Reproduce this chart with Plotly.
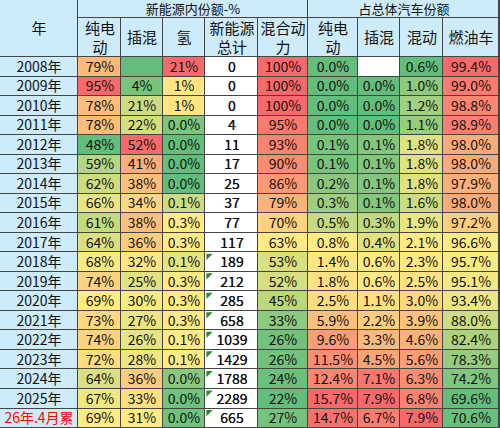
import numpy as np
import plotly.graph_objects as go

years = ["2008年", "2009年", "2010年", "2011年", "2012年", "2013年", "2014年",
         "2015年", "2016年", "2017年", "2018年", "2019年", "2020年", "2021年",
         "2022年", "2023年", "2024年", "2025年", "26年.4月累"]

# 新能源内份额 (%)
nev_bev = [79, 95, 78, 78, 48, 59, 62, 66, 61, 64, 68, 74, 69, 73, 74, 72, 64, 67, 69]
nev_phev = [0, 4, 21, 22, 52, 41, 38, 34, 38, 36, 32, 25, 30, 27, 26, 28, 36, 33, 31]
nev_h2 = [21, 1, 1, 0.02, 0.0, 0.0, 0.0, 0.08, 0.3, 0.3, 0.1, 0.3, 0.3, 0.27,
          0.14, 0.12, 0.03, 0.01, 0.01]
nev_total = [0, 0, 0, 4, 11, 17, 25, 37, 77, 117, 189, 212, 285, 658, 1039,
             1429, 1788, 2289, 665]
hybrid = [100, 100, 100, 95, 93, 90, 86, 79, 70, 63, 53, 52, 45, 33, 26, 26, 24, 22, 27]
# excel "number stored as text" flags in the total column
total_flag = [False] * 10 + [True] * 9

# 占总体汽车份额 (%)
all_bev = [0.0, 0.0, 0.0, 0.0, 0.1, 0.1, 0.2, 0.3, 0.5, 0.8, 1.4, 1.8, 2.5, 5.9,
           9.6, 11.5, 12.4, 15.7, 14.7]
all_phev = [None, 0.0, 0.0, 0.0, 0.1, 0.1, 0.1, 0.1, 0.3, 0.4, 0.6, 0.6, 1.1, 2.2,
            3.3, 4.5, 7.1, 7.9, 6.7]
all_hev = [0.6, 1.0, 1.2, 1.1, 1.8, 1.8, 1.8, 1.6, 1.9, 2.1, 2.3, 2.5, 3.0, 3.9,
           4.6, 5.6, 6.3, 6.8, 7.9]
all_ice = [99.4, 99.0, 98.8, 98.9, 98.0, 98.0, 97.9, 98.0, 97.2, 96.6, 95.7, 95.1,
           93.4, 88.0, 82.4, 78.3, 74.2, 69.6, 70.6]

group_titles = ["新能源内份额-%", "占总体汽车份额"]
sub_titles = ["纯电<br>动", "插混", "氢", "新能源<br>总计", "混合动<br>力",
              "纯电<br>动", "插混", "混动", "燃油车"]

# layout of the grid (pixels)
col_edges = [0, 78, 121, 163, 205, 258, 308, 358, 400, 443, 499]
row_h = 19.53
head_h = [0, 18, 57]
row_edges = [57 + i * row_h for i in range(len(years) + 1)]

FONT = "Noto Sans CJK SC"
HEAD_BG = "#CDEBF8"
GRID = "#454545"
scale = [[0, "#63BE7B"], [0.5, "#FFEB84"], [1, "#F8696B"]]


def pos(vals):
    # excel style 3 colour scale: min / 50th percentile / max
    v = np.array([np.nan if x is None else x for x in vals], dtype=float)
    ok = v[~np.isnan(v)]
    lo, mid, hi = ok.min(), np.percentile(ok, 50), ok.max()
    out = np.where(v <= mid, 0.5 * (v - lo) / (mid - lo),
                   0.5 + 0.5 * (v - mid) / (hi - mid))
    return out


def pct0(vals):
    return [f"{x:.0f}%" for x in vals]


def pct1(vals):
    return ["" if x is None else f"{x:.1f}%" for x in vals]


data_cols = [nev_bev, nev_phev, nev_h2, None, hybrid, all_bev, all_phev, all_hev, all_ice]
text_cols = [
    pct0(nev_bev),
    ["" if x == 0 else f"{x:.0f}%" for x in nev_phev],
    [f"{x:.0f}%" if x >= 1 else f"{x:.1f}%" for x in nev_h2],
    [str(x) for x in nev_total],
    pct0(hybrid),
    pct1(all_bev), pct1(all_phev), pct1(all_hev), pct1(all_ice),
]

n = len(years)
z = np.full((n, 9), np.nan)
for j, col in enumerate(data_cols):
    if col is not None:
        z[:, j] = pos(col)
text = [[text_cols[j][i] for j in range(9)] for i in range(n)]
white_text = [["" if j != 3 else text_cols[3][i] for j in range(9)] for i in range(n)]

cell_font = dict(family=FONT, size=14, color="#111111")
head_font = dict(family=FONT, size=15, color="#111111")
group_font = dict(family=FONT, size=13, color="#111111")
flat_blue = [[0, HEAD_BG], [1, HEAD_BG]]
flat_white = [[0, "#FFFFFF"], [1, "#FFFFFF"]]

common = dict(showscale=False, hoverinfo="skip", xgap=1, ygap=1, texttemplate="%{text}")

fig = go.Figure()
fig.add_trace(go.Heatmap(x=col_edges[:2], y=[0, 57], z=[[0]], text=[["年"]],
                         colorscale=flat_blue, textfont=head_font, **common))
fig.add_trace(go.Heatmap(x=[78, 308, 499], y=head_h[:2], z=[[0, 0]], text=[group_titles],
                         colorscale=flat_blue, textfont=group_font, **common))
fig.add_trace(go.Heatmap(x=col_edges[1:], y=head_h[1:], z=[[0] * 9], text=[sub_titles],
                         colorscale=flat_blue, textfont=head_font, **common))
year_text = [[y if not y.startswith("26") else f"<span style='color:#FF0000'>{y}</span>"]
             for y in years]
fig.add_trace(go.Heatmap(x=col_edges[:2], y=row_edges, z=[[0]] * n, text=year_text,
                         colorscale=flat_blue, textfont=cell_font, **common))
fig.add_trace(go.Heatmap(x=col_edges[1:], y=row_edges, z=np.zeros((n, 9)), text=white_text,
                         colorscale=flat_white, textfont=cell_font, **common))
fig.add_trace(go.Heatmap(x=col_edges[1:], y=row_edges, z=z, text=text, zmin=0, zmax=1,
                         colorscale=scale, textfont=cell_font, **common))

# little green corner flags
fx = [col_edges[4] + 3.5 for f in total_flag if f]
fy = [row_edges[i] + 3.5 for i, f in enumerate(total_flag) if f]
fig.add_trace(go.Scatter(x=fx, y=fy, mode="markers", hoverinfo="skip", showlegend=False,
                         marker=dict(symbol="triangle-nw", size=7, color="#2A8A2A",
                                     line=dict(width=0))))

fig.update_xaxes(range=[0, 500], visible=False, fixedrange=True)
fig.update_yaxes(range=[428, 0], visible=False, fixedrange=True)
fig.update_layout(width=500, height=428, margin=dict(l=0, r=0, t=0, b=0),
                  plot_bgcolor=GRID, paper_bgcolor="#FFFFFF", font=dict(family=FONT))

# the page body has a default 8px margin; drop it so the table sits at 0,0
fig.write_html("out.html", config={"displayModeBar": False},
               post_script="document.body.style.margin='0';document.body.style.overflow='hidden';")
